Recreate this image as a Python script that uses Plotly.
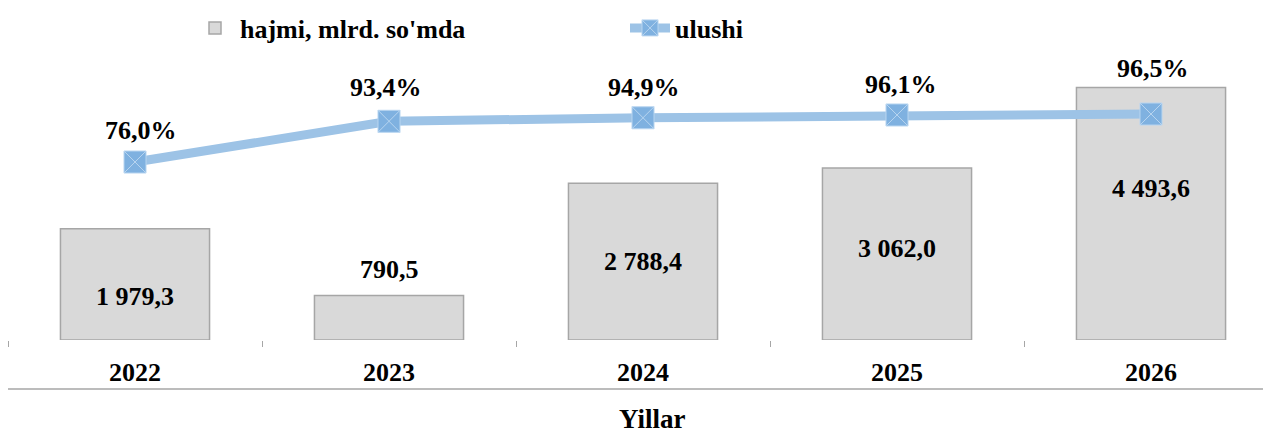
import plotly.graph_objects as go

years = ["2022", "2023", "2024", "2025", "2026"]
volume = [1979.3, 790.5, 2788.4, 3062.0, 4493.6]
share = [76.0, 93.4, 94.9, 96.1, 96.5]

# label placement (styles, not data)
vol_label_frac = [0.39, None, 0.5, 0.53, 0.6]
pct_label_shift = [32, 34, 30, 30, 46]
pct_label_xshift = [6, -3, 1, 4, 2]

FONT = "Liberation Serif, Times New Roman, serif"

def fmt_num(v):
    return f"{v:,.1f}".replace(",", " ").replace(".", ",")

def fmt_pct(v):
    return f"{v:.1f}".replace(".", ",") + "%"

fig = go.Figure()
fig.add_trace(go.Bar(
    x=years, y=volume, name="<b>hajmi, mlrd. so'mda</b>",
    marker=dict(color="#d9d9d9", line=dict(color="#a6a6a6", width=1.5)),
    width=0.587, yaxis="y",
))
fig.add_trace(go.Scatter(
    x=years, y=share, name="<b>ulushi</b>", yaxis="y2",
    mode="lines+markers",
    line=dict(color="#9dc3e6", width=9),
    marker=dict(symbol="square-x", size=22, color="#7fb1e0",
                line=dict(color="#b8d5f0", width=1)),
))

ann = []
for i, v in enumerate(volume):
    f = vol_label_frac[i]
    if f is None:
        ann.append(dict(x=i, y=v, xref="x", yref="y", text=f"<b>{fmt_num(v)}</b>",
                        showarrow=False, yshift=26, font=dict(family=FONT, size=26, color="black")))
    else:
        ann.append(dict(x=i, y=v * f, xref="x", yref="y", text=f"<b>{fmt_num(v)}</b>",
                        showarrow=False, font=dict(family=FONT, size=26, color="black")))
for i, p in enumerate(share):
    ann.append(dict(x=i, y=p, xref="x", yref="y2", text=f"<b>{fmt_pct(p)}</b>",
                    showarrow=False, yshift=pct_label_shift[i], xshift=pct_label_xshift[i],
                    font=dict(family=FONT, size=26, color="black")))
ann.append(dict(x=0.51, y=(332 - 411) / 281, xref="paper", yref="paper", text="<b>Yillar</b>",
                showarrow=False, font=dict(family=FONT, size=27, color="black"),
                yanchor="middle"))

fig.update_layout(
    width=1263, height=425,
    margin=dict(l=0, r=0, t=51, b=93, autoexpand=False),
    plot_bgcolor="white", paper_bgcolor="white",
    showlegend=True,
    legend=dict(orientation="h", x=182 / 1263, xanchor="left",
                yref="container", y=1 - 20 / 425, yanchor="middle",
                font=dict(family=FONT, size=26, color="black"),
                entrywidth=380, entrywidthmode="pixels", itemwidth=40,
                bgcolor="rgba(0,0,0,0)"),
    xaxis=dict(type="category", range=[-0.5, 4.4724], showline=False, showgrid=False,
               automargin=False,
               ticks="outside", tickson="boundaries", ticklen=6, tickcolor="#a6a6a6",
               tickwidth=1, ticklabelstandoff=14,
               tickfont=dict(family=FONT, size=26, color="black"),
               tickprefix="<b>", ticksuffix="</b>"),
    yaxis=dict(range=[0, 5000], visible=False, showgrid=False, automargin=False),
    yaxis2=dict(range=[0, 120], visible=False, showgrid=False, overlaying="y", side="right",
                automargin=False),
    annotations=ann,
    shapes=[dict(type="line", xref="paper", yref="paper", x0=0, x1=1,
                 y0=-0.1745, y1=-0.1745, line=dict(color="#a6a6a6", width=1.5))],
)

fig.write_html("out.html")
